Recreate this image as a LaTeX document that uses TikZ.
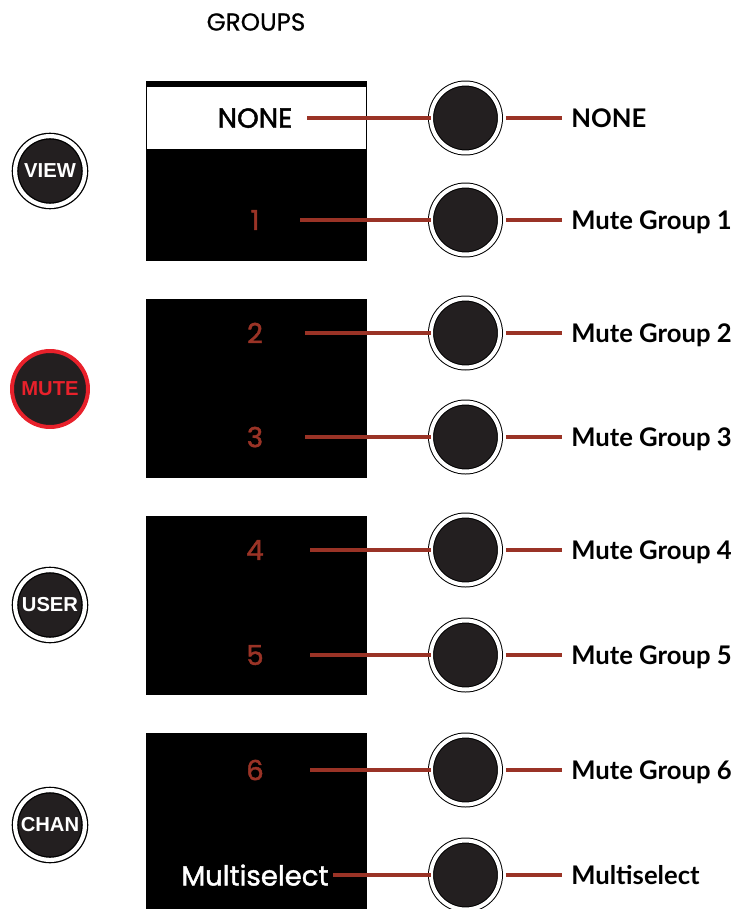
\documentclass[tikz,border=0pt]{standalone}
\usepackage{fontspec}
\newfontfamily\panelfont[FakeBold=1.6]{Poppins}
\newfontfamily\titlefont[FakeBold=0.6]{Poppins}
\newfontfamily\tagfont{Lato}
\newfontfamily\btnfont{Liberation Sans}
\usetikzlibrary{positioning}
\definecolor{LeadRed}{HTML}{9A3326}
\definecolor{MuteRed}{HTML}{E8212B}
\definecolor{KnobBlack}{HTML}{231F20}
\tikzset{
  knob/.style={circle,fill=KnobBlack,draw=black,double=white,line width=0.02cm,double distance=0.08cm,minimum size=1.38cm,inner sep=0pt,outer sep=0pt},
  sidebtn/.style={circle,fill=KnobBlack,draw=black,double=white,line width=0.026cm,double distance=0.084cm,minimum size=1.396cm,inner sep=0pt,outer sep=0pt,text=white,font=\btnfont\bfseries\fontsize{11.5}{11.5}\selectfont},
  mutebtn/.style={circle,fill=KnobBlack,draw=MuteRed,line width=0.08cm,minimum size=1.52cm,inner sep=0pt,outer sep=0pt,text=MuteRed,font=\btnfont\bfseries\fontsize{11.5}{11.5}\selectfont},
  boxtext/.style={inner sep=0pt,text depth=0pt,font=\panelfont\fontsize{15.7}{15.7}\selectfont},
  tagtext/.style={anchor=west,inner sep=0pt,text depth=0pt,font=\tagfont\bfseries\fontsize{14.6}{14.6}\selectfont},
  redline/.style={draw=LeadRed,line width=0.08cm}
}
\begin{document}
\begin{tikzpicture}[x=0.02cm,y=-0.02cm]
\useasboundingbox (0,0) rectangle (738,909);
\node[font=\titlefont\fontsize{14}{14}\selectfont] (title) at (256,22) {GROUPS};
% display boxes
\fill (146,81) rectangle (367,261);
\fill[white] (147,87) rectangle (366,149);
\fill (146,299) rectangle (367,478);
\fill (146,516) rectangle (367,695);
\fill (146,733) rectangle (367,909);
% buttons on the left
\node[sidebtn] (view) at (50,171) {VIEW};
\node[mutebtn] (mute) at (50,389) {MUTE};
\node[sidebtn] (user) at (50,605) {USER};
\node[sidebtn] (chan) at (50,825) {CHAN};
% knobs, display texts and labels
\foreach \i/\y/\txt/\col/\tag/\sx in {1/118/NONE/black/NONE/307,2/220/1/LeadRed/Mute Group 1/300,3/333/2/LeadRed/Mute Group 2/305,4/437/3/LeadRed/Mute Group 3/305,5/550/4/LeadRed/Mute Group 4/310,6/655/5/LeadRed/Mute Group 5/310,7/770/6/LeadRed/Mute Group 6/310,8/875/Multiselect/white/Multiselect/333}{
  \node[knob] (k\i) at (465.5,\y) {};
  \node[boxtext,text=\col] (t\i) at (255,\y) {\txt};
  \node[tagtext] (g\i) at (571,\y) {\tag};
  \coordinate (s\i) at (\sx,\y);
  \draw[redline] (s\i) -- (k\i.west);
  \draw[redline,shorten <=0.12cm,shorten >=0.18cm] (k\i.east) -- (g\i.west);
}
\end{tikzpicture}
\end{document}
